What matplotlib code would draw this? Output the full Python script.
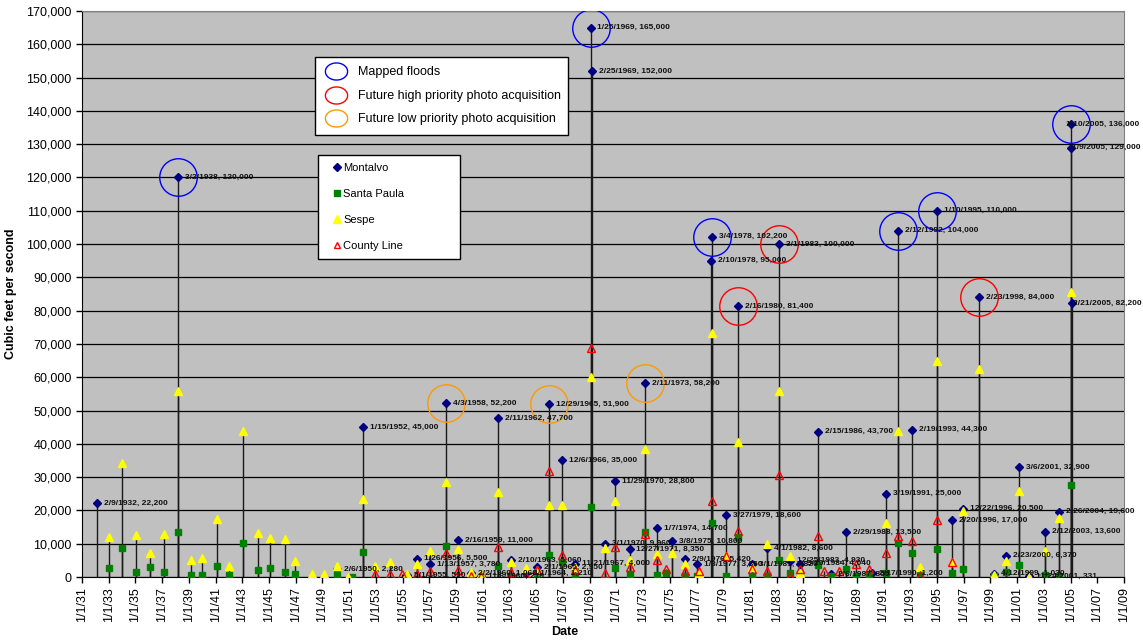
import matplotlib
matplotlib.use("Agg")
import matplotlib.pyplot as plt
from matplotlib.lines import Line2D
from matplotlib.path import Path
from matplotlib.ticker import FixedLocator, FuncFormatter
import matplotlib.dates as mdates
import numpy as np
import pandas as pd

plt.rcParams['font.family'] = ['Liberation Sans', 'DejaVu Sans']

N = None
# ---------------- data ----------------
event_dates = [
    "1932-02-09", "1933-01-18", "1933-12-28", "1935-01-05", "1936-02-12", "1937-02-14",
    "1938-03-02", "1939-03-05", "1940-01-08", "1941-02-09", "1942-01-01", "1943-01-22",
    "1944-02-22", "1945-02-02", "1946-03-15", "1946-12-01", "1948-03-24", "1949-02-10",
    "1950-02-06", "1950-12-01", "1951-03-10", "1952-01-15", "1952-12-01", "1954-01-20",
    "1954-12-20", "1955-05-01", "1956-01-26", "1957-01-13", "1958-04-03", "1959-02-16",
    "1960-02-02", "1960-11-06", "1962-02-11", "1963-02-10", "1964-04-01", "1965-02-01",
    "1965-12-29", "1966-12-06", "1967-11-21", "1969-01-25", "1969-02-25", "1970-03-01",
    "1970-11-29", "1971-12-27", "1973-02-11", "1974-01-07", "1974-09-15", "1975-03-08",
    "1976-02-09", "1977-01-03", "1977-03-01", "1978-03-04", "1978-02-10", "1979-03-27",
    "1980-02-16", "1981-03-01", "1982-04-01", "1983-03-01", "1983-12-25", "1984-09-20",
    "1986-02-15", "1986-08-01", "1987-02-06", "1987-09-15", "1988-02-29", "1988-12-01",
    "1989-12-01", "1990-02-17", "1991-03-19", "1992-02-12", "1993-02-19", "1993-10-01",
    "1995-01-10", "1996-02-20", "1996-12-22", "1998-02-23", "1999-04-12", "2000-02-23",
    "2001-03-06", "2001-11-24", "2003-02-12", "2004-02-26", "2005-01-10", "2005-01-09",
    "2005-02-21",
]
montalvo = [
    22200, N, N, N, N, N,
    120000, N, N, N, N, N,
    N, N, N, N, N, N,
    2280, N, N, 45000, N, N,
    N, 590, 5500, 3780, 52200, 11000,
    1060, 219, 47700, 5060, 1210, 2950,
    51900, 35000, 4000, 165000, 152000, 9960,
    28800, 8350, 58200, 14700, N, 10800,
    5420, 3850, N, 102200, 95000, 18600,
    81400, 3820, 8600, 100000, 4930, 4040,
    43700, N, 855, N, 13500, N,
    N, 1200, 25000, 104000, 44300, N,
    110000, 17000, 20500, 84000, 1030, 6370,
    32900, 331, 13600, 19600, 136000, 129000,
    82200,
]
santa_paula = [
    N, 2800, 8800, 1600, 3100, 1600,
    13600, 600, 600, 3400, 700, 10200,
    2100, 2800, 1600, 1000, N, N,
    1000, N, 100, 7500, N, N,
    N, N, N, N, 9400, N,
    300, N, 3300, 100, N, 100,
    6600, 4600, 300, 21100, N, N,
    2800, 800, 13600, 600, 1300, N,
    400, 300, N, 16100, N, 300,
    12100, 300, 300, 5100, 1300, 300,
    3600, N, 300, N, 2300, 300,
    700, N, 1300, 10300, 7300, 1100,
    8300, 1300, 2300, N, 200, 1600,
    3600, N, 600, 200, 27600, N,
    N,
]
sespe = [
    N, 12100, 34100, 12600, 7300, 12800,
    56000, 5200, 5600, 17400, 3300, 43900,
    13100, 11600, 11400, 4900, 900, 900,
    3300, 100, N, 23300, 3400, 4600,
    N, 900, 4000, 7900, 28400, 8400,
    1600, 900, 25600, 4400, 2600, 2100,
    21600, 21600, 3100, 60000, N, 8800,
    22800, 5100, 38400, 6900, N, 7300,
    3800, N, 1100, 73200, N, 6300,
    40600, 2900, 9900, 56000, 6300, 1300,
    N, N, N, N, N, N,
    N, N, 16300, 43900, N, 2900,
    65000, 4600, 19900, 62500, 600, 4900,
    25900, 100, 7800, 17600, 85600, N,
    N,
]
county_line = [
    N, N, N, N, N, N,
    N, N, N, N, N, N,
    N, N, N, N, N, N,
    N, N, N, N, 900, 900,
    900, N, 900, 1900, 7100, 2100,
    300, 300, 9100, 1600, 300, 2100,
    31900, 6600, 2100, 68800, N, 1100,
    8900, 3100, 13000, 5100, 2300, N,
    1900, N, 1900, 22800, N, 6300,
    13800, 2300, 1900, 30600, 300, 2400,
    12400, 1800, N, 1900, N, 4000,
    2300, N, 7100, 12300, 10900, 600,
    17100, 4600, N, N, N, N,
    N, N, N, N, N, N,
    N,
]

mapped_dates = ["1938-03-02", "1969-01-25", "1978-03-04", "1992-02-12", "1995-01-10", "2005-01-10"]
mapped_vals = [120000, 165000, 102200, 104000, 110000, 136000]
high_dates = ["1980-02-16", "1983-03-01", "1998-02-23"]
high_vals = [81400, 100000, 84000]
low_dates = ["1958-04-03", "1965-12-29", "1973-02-11"]
low_vals = [52200, 51900, 58200]

tick_dates = pd.date_range("1931-01-01", "2009-01-01", freq="2YS")
y_ticks = list(range(0, 170001, 10000))

series_names = ["Montalvo", "Santa Paula", "Sespe", "County Line"]
circle_names = ["Mapped floods", "Future high priority photo acquisition",
                "Future low priority photo acquisition"]

# ---------------- figure ----------------
W, H = 1143, 640
fig = plt.figure(figsize=(W / 100, H / 100), dpi=100)
L, R, T, B = 82, 1124, 11, 577
ax = fig.add_axes([L / W, 1 - B / H, (R - L) / W, (B - T) / H])
ax.set_facecolor("#C0C0C0")

dates = pd.to_datetime(event_dates)
xnum = mdates.date2num(dates)


def arr(v):
    return np.array([np.nan if x is None else x for x in v], dtype=float)


M, SP, S, CL = arr(montalvo), arr(santa_paula), arr(sespe), arr(county_line)

# drop lines
for vals in (M, SP, S, CL):
    ok = ~np.isnan(vals)
    ax.vlines(xnum[ok], 0, vals[ok], colors="#1a1a1a", lw=1.0, zorder=2)

# markers
ax.plot(xnum, M, ls="none", marker="D", ms=4.2, color="#000080", mec="#000080", zorder=4)
ax.plot(xnum, SP, ls="none", marker="s", ms=4.2, color="#008000", mec="#008000", zorder=4)
ax.plot(xnum, S, ls="none", marker="^", ms=6, color="#FFFF00", mec="#FFFF00", zorder=4)
ax.plot(xnum, CL, ls="none", marker="^", ms=5.5, mfc="none", mec="#FF0000", mew=1.0, zorder=5)

# Montalvo labels
for d, v in zip(dates, M):
    if np.isnan(v):
        continue
    txt = f"{d.month}/{d.day}/{d.year}, {int(v):,}"
    dx = 5
    if d.year == 2005:
        dx = -3.5 if (d.month == 1 and d.day == 10) else 0.5
    ax.annotate(txt, (mdates.date2num(d), v), xytext=(dx, 0), textcoords="offset points",
                fontsize=6, fontweight="bold", va="center", ha="left", color="#111111",
                zorder=7, annotation_clip=False)

# circles
for ds, vs, c in ((mapped_dates, mapped_vals, "#0000FF"),
                  (high_dates, high_vals, "#FF0000"),
                  (low_dates, low_vals, "#FF9900")):
    ax.plot(mdates.date2num(pd.to_datetime(ds)), vs, ls="none", marker="o", ms=27,
            mfc="none", mec=c, mew=1.0, zorder=6)

# axes
ax.set_xlim(mdates.date2num(pd.Timestamp("1931-01-01")), mdates.date2num(pd.Timestamp("2009-01-01")))
ax.set_ylim(0, 170000)
ax.xaxis.set_major_locator(FixedLocator(mdates.date2num(tick_dates)))
ax.xaxis.set_major_formatter(FuncFormatter(
    lambda x, p: (lambda d: f"{d.month}/{d.day}/{d:%y}")(mdates.num2date(x))))
ax.yaxis.set_major_locator(FixedLocator(y_ticks))
ax.yaxis.set_major_formatter(FuncFormatter(lambda v, p: f"{int(v):,}"))
ax.tick_params(axis="both", direction="out", length=4, width=1, labelsize=9, colors="black")
for lab in ax.get_xticklabels():
    lab.set_rotation(90)
ax.yaxis.grid(True, color="#000000", lw=0.9)
ax.set_axisbelow(True)
for s in ("top", "right"):
    ax.spines[s].set_color("#808080")
for s in ("left", "bottom"):
    ax.spines[s].set_color("black")

ax.set_ylabel("Cubic feet per second", fontsize=9, fontweight="bold")
ax.yaxis.set_label_coords((17 - L) / (R - L), 0.5)
ax.set_xlabel("Date", fontsize=9, fontweight="bold")
ax.xaxis.set_label_coords((565 - L) / (R - L), (B - 626) / (B - T))


def fx(px):
    return (px - L) / (R - L)


def fy(py):
    return (B - py) / (B - T)


# legend 1 (circles)
th = np.linspace(0, 2 * np.pi, 80)
ell = Path(np.column_stack([1.3 * np.cos(th), np.sin(th)]))
h1 = [Line2D([], [], ls="none", marker=ell, ms=16, mfc="none", mec=c, mew=1.0)
      for c in ("#0000FF", "#FF0000", "#FF9900")]
leg1 = ax.legend(h1, circle_names, loc="upper left",
                 bbox_to_anchor=(fx(315), fy(138), fx(568) - fx(315), fy(57) - fy(138)),
                 mode="expand", fontsize=9, frameon=True, fancybox=False,
                 edgecolor="black", framealpha=1, borderpad=0.75, labelspacing=0.92,
                 handlelength=1.9, handletextpad=0.8, borderaxespad=0)
leg1.get_frame().set_linewidth(1.0)
leg1.set_zorder(10)
ax.add_artist(leg1)

h2 = [Line2D([], [], ls="none", marker="D", ms=4.2, color="#000080"),
      Line2D([], [], ls="none", marker="s", ms=4.0, color="#008000"),
      Line2D([], [], ls="none", marker="^", ms=5.5, color="#FFFF00", mec="#FFFF00"),
      Line2D([], [], ls="none", marker="^", ms=5.0, mfc="none", mec="#FF0000", mew=1.0)]
leg2 = ax.legend(h2, series_names, loc="upper left",
                 bbox_to_anchor=(fx(318), fy(258), fx(460) - fx(318), fy(155) - fy(258)),
                 mode="expand", fontsize=8, frameon=True, fancybox=False,
                 edgecolor="black", framealpha=1, borderpad=0.7, labelspacing=1.45,
                 handlelength=2.1, handletextpad=-0.55, borderaxespad=0)
leg2.get_frame().set_linewidth(1.0)
leg2.set_zorder(10)

fig.savefig("out.png", dpi=100, facecolor="white")
